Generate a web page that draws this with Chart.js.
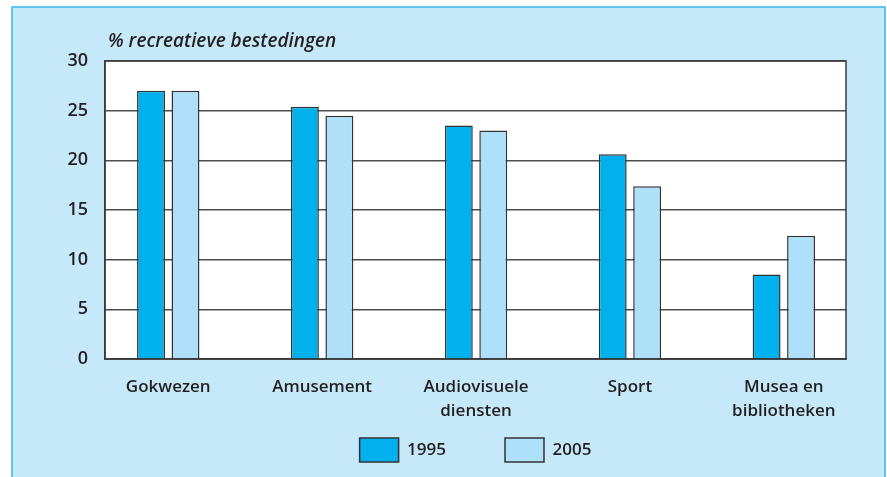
<!DOCTYPE html>
<html>
<head>
<meta charset="utf-8">
<script src="https://cdn.jsdelivr.net/npm/chart.js@4/dist/chart.umd.min.js"></script>
<style>
  html, body { margin: 0; padding: 0; background: #ffffff; }
  #wrap { width: 887px; height: 477px; }
</style>
</head>
<body>
<div id="wrap"><canvas id="c" width="887" height="477"></canvas></div>
<script>
const categories = [["Gokwezen"], ["Amusement"], ["Audiovisuele", "diensten"], ["Sport"], ["Musea en", "bibliotheken"]];
const values1995 = [27.0, 25.4, 23.5, 20.6, 8.5];
const values2005 = [27.0, 24.5, 23.0, 17.4, 12.4];
const yTicks = [0, 5, 10, 15, 20, 25, 30];
const seriesNames = ["1995", "2005"];
const axisTitle = "% recreatieve bestedingen";

const FONT = "'Open Sans', 'Noto Sans', sans-serif";
const TEXT = "#231f20";

const framePlugin = {
  id: 'frame',
  beforeDraw(chart) {
    const ctx = chart.ctx;
    const a = chart.chartArea;
    ctx.save();
    ctx.fillStyle = '#ffffff';
    ctx.fillRect(0, 0, chart.width, chart.height);
    ctx.fillStyle = '#c6e9fa';
    ctx.fillRect(12, 7, 873, chart.height);
    ctx.strokeStyle = '#3db5ea';
    ctx.lineWidth = 1.5;
    ctx.beginPath();
    ctx.moveTo(12, chart.height);
    ctx.lineTo(12, 7);
    ctx.lineTo(885, 7);
    ctx.lineTo(885, chart.height);
    ctx.stroke();
    ctx.fillStyle = '#ffffff';
    ctx.fillRect(a.left, a.top, a.right - a.left, a.bottom - a.top);
    ctx.restore();
  },
  afterDraw(chart) {
    const ctx = chart.ctx;
    const a = chart.chartArea;
    ctx.save();
    ctx.strokeStyle = '#3a3a3a';
    ctx.lineWidth = 1.5;
    ctx.strokeRect(a.left, a.top, a.right - a.left, a.bottom - a.top);
    ctx.fillStyle = TEXT;
    ctx.font = "italic 600 19px " + FONT;
    ctx.textBaseline = 'alphabetic';
    ctx.textAlign = 'left';
    ctx.fillText(axisTitle, 108, 47);
    ctx.restore();
  }
};

const toPoints = arr => arr.map((v, i) => ({ x: i, y: v }));

new Chart(document.getElementById('c'), {
  type: 'bar',
  data: {
    datasets: [
      { label: seriesNames[0], data: toPoints(values1995), backgroundColor: '#00b1ed', borderColor: '#333333', borderWidth: 1.5 },
      { label: seriesNames[1], data: toPoints(values2005), backgroundColor: '#aee0f9', borderColor: '#333333', borderWidth: 1.5 }
    ]
  },
  options: {
    responsive: false,
    animation: false,
    devicePixelRatio: 1,
    categoryPercentage: 0.448,
    barPercentage: 0.81,
    layout: { padding: { left: 12, right: 41, top: 61, bottom: 5 } },
    plugins: {
      title: { display: false },
      tooltip: { enabled: false },
      legend: {
        position: 'bottom',
        fullSize: false,
        labels: {
          boxWidth: 39,
          boxHeight: 24,
          padding: 59,
          color: TEXT,
          font: { family: FONT, size: 17, weight: '600' }
        }
      }
    },
    scales: {
      x: {
        type: 'linear',
        min: -0.411,
        max: 4.404,
        offset: false,
        grid: { display: false, drawTicks: false },
        border: { display: true, color: '#3a3a3a', width: 1.5 },
        afterBuildTicks(scale) { scale.ticks = categories.map((_, i) => ({ value: i })); },
        afterFit(scale) { scale.height = 20; },
        ticks: {
          autoSkip: false,
          maxRotation: 0,
          mirror: true,
          padding: -40,
          color: TEXT,
          font: { family: FONT, size: 17, weight: '600', lineHeight: 1.38 },
          callback: v => categories[v]
        }
      },
      y: {
        min: 0,
        max: 30,
        afterBuildTicks(scale) { scale.ticks = yTicks.map(v => ({ value: v })); },
        afterFit(scale) { scale.width = 93; },
        grid: { color: '#4d4d4d', lineWidth: 1.5, drawTicks: false },
        border: { display: true, color: '#3a3a3a', width: 1.5 },
        ticks: {
          padding: 17,
          color: TEXT,
          font: { family: FONT, size: 18, weight: '600' }
        }
      }
    }
  },
  plugins: [framePlugin]
});
</script>
</body>
</html>
